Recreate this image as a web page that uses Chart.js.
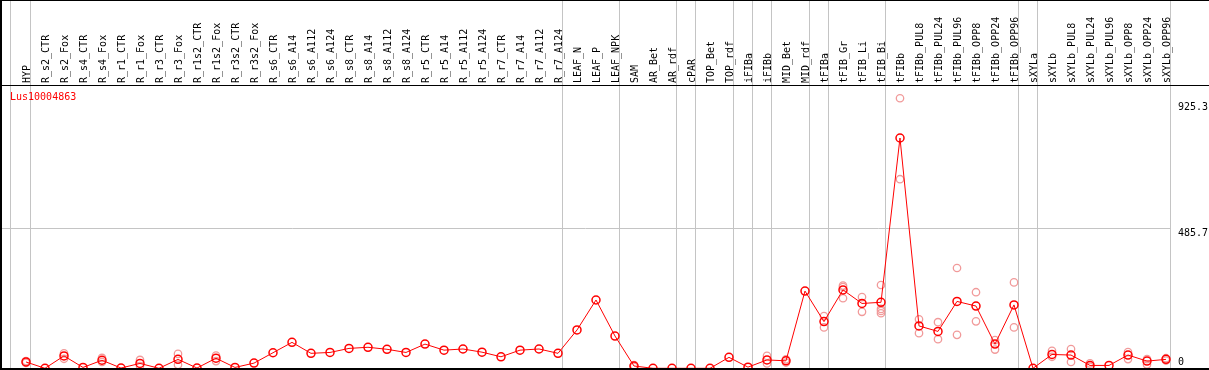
<!DOCTYPE html>
<html>
<head>
<meta charset="utf-8">
<script src="https://cdn.jsdelivr.net/npm/chart.js@4.4.1/dist/chart.umd.min.js"></script>
<style>
  body { margin: 0; background: #fff; }
  #wrap { position: relative; width: 1209px; height: 370px; overflow: hidden; }
  #wrap canvas { position: absolute; left: 0; top: 0; }
  .rule { position: absolute; background: #000; pointer-events: none; }
</style>
</head>
<body>
<div id="wrap">
  <canvas id="chart" width="1209" height="370"></canvas>
  <div class="rule" style="left:0;top:0;width:1209px;height:1px"></div>
  <div class="rule" style="left:0;top:85px;width:1209px;height:1px"></div>
  <div class="rule" style="left:0;top:0;width:2px;height:370px"></div>
  <div class="rule" style="left:0;top:368px;width:1209px;height:2px"></div>
</div>
<script>
const geneName = 'Lus10004863'

const categories = [
    'HYP',
    'R_s2_CTR', 'R_s2_Fox', 'R_s4_CTR', 'R_s4_Fox', 'R_r1_CTR', 'R_r1_Fox', 'R_r3_CTR', 'R_r3_Fox',
    'R_r1s2_CTR', 'R_r1s2_Fox', 'R_r3s2_CTR', 'R_r3s2_Fox',
    'R_s6_CTR', 'R_s6_A14', 'R_s6_A112', 'R_s6_A124', 'R_s8_CTR', 'R_s8_A14', 'R_s8_A112', 'R_s8_A124',
    'R_r5_CTR', 'R_r5_A14', 'R_r5_A112', 'R_r5_A124', 'R_r7_CTR', 'R_r7_A14', 'R_r7_A112', 'R_r7_A124',
    'LEAF_N', 'LEAF_P', 'LEAF_NPK',
    'SAM', 'AR_Bet', 'AR_rdf', 'cPAR', 'TOP_Bet', 'TOP_rdf', 'iFIBa', 'iFIBb', 'MID_Bet', 'MID_rdf',
    'tFIBa', 'tFIB_Gr', 'tFIB_Li', 'tFIB_Bi',
    'tFIBb', 'tFIBb_PUL8', 'tFIBb_PUL24', 'tFIBb_PUL96', 'tFIBb_OPP8', 'tFIBb_OPP24', 'tFIBb_OPP96',
    'sXYLa', 'sXYLb', 'sXYLb_PUL8', 'sXYLb_PUL24', 'sXYLb_PUL96', 'sXYLb_OPP8', 'sXYLb_OPP24', 'sXYLb_OPP96'
]

// mean expression per sample
const meanValues = [
    22,
    0, 43, 3, 28, 1, 17, 0, 31,
    1, 35, 3, 18,
    54, 90, 52, 55, 69, 73, 66, 55,
    84, 63, 67, 56, 40, 63, 67, 52,
    133, 237, 112,
    8, 0, 0, 0, 0, 38, 4, 29, 26, 268,
    162, 272, 225, 229,
    799, 147, 128, 232, 216, 84, 220,
    0, 48, 46, 10, 10, 46, 25, 31
]

// single replicates, one list per sample
const replicates = [
    [19, 25],
    [], [52, 33], [], [36, 22], [], [29, 8], [], [50, 12],
    [], [44, 25], [], [],
    [], [], [], [], [], [], [], [],
    [], [], [], [], [], [], [], [],
    [], [], [],
    [5, 11], [], [], [], [], [], [], [43, 17], [20, 31], [],
    [181, 142], [287, 282, 243], [247, 196], [289, 206, 199, 191],
    [937, 656], [170, 122], [160, 101], [348, 116], [264, 163], [98, 65], [298, 142],
    [], [61, 40], [67, 22], [17, 5], [], [56, 32], [32, 13], [35, 27]
]

// last sample index of each group (vertical separators)
const groupEnds = [0, 28, 31, 34, 35, 37, 38, 39, 41, 42, 45, 52, 53, 60]
const yTicks = [0, 485.7, 925.3]

const X_MIN = -1.36842
const X_MAX = 60.26316
const Y_MIN = -2.4
const Y_MAX = 982.9

const monoCss = "10px 'DejaVu Sans Mono', monospace"
const mono = { family: "'DejaVu Sans Mono', monospace", size: 10 }
const red = '#ff0000'
const pink = '#f19a9a'
const gridGray = '#c4c4c4'

const meanPoints = meanValues.map((v, i) => ({ x: i, y: v }))
const repPoints = []
replicates.forEach((list, i) => list.forEach(v => repPoints.push({ x: i, y: v })))
const separators = [-0.82].concat(groupEnds.map(i => i + 0.25))

// gene name in the corner + y tick labels hanging under their tick (kept inside the plot)
const textLayer = {
    id: 'textLayer',
    afterDraw(chart) {
        const ctx = chart.ctx
        const area = chart.chartArea
        const y = chart.scales.y
        ctx.save()
        ctx.font = monoCss
        ctx.textBaseline = 'middle'
        ctx.fillStyle = red
        ctx.fillText(geneName, area.left + 10, area.top + 12.5)
        ctx.fillStyle = '#000'
        y.ticks.forEach(t => {
            const py = Math.min(y.getPixelForValue(t.value) + 5.5, area.bottom - 7)
            ctx.fillText(String(t.value), y.left + 7, py)
        })
        ctx.restore()
    }
}

function noPad(s) {
    s.paddingLeft = 0
    s.paddingRight = 0
    s.paddingTop = 0
    s.paddingBottom = 0
}

new Chart(document.getElementById('chart'), {
    data: {
        datasets: [{
            type: 'line',
            data: meanPoints,
            borderColor: red,
            borderWidth: 1,
            pointStyle: 'circle',
            pointRadius: 4,
            pointBorderWidth: 1.5,
            pointBorderColor: red,
            pointBackgroundColor: 'rgba(0,0,0,0)',
            tension: 0,
            order: 0
        }, {
            type: 'scatter',
            data: repPoints,
            pointStyle: 'circle',
            pointRadius: 3.7,
            pointBorderWidth: 1.3,
            pointBorderColor: pink,
            pointBackgroundColor: 'rgba(0,0,0,0)',
            order: 1
        }]
    },
    options: {
        responsive: false,
        animation: false,
        devicePixelRatio: 1,
        layout: { autoPadding: false, padding: { left: 0, right: 0, top: 0, bottom: 1 } },
        plugins: { legend: { display: false }, tooltip: { enabled: false } },
        scales: {
            x: {
                type: 'linear',
                position: 'top',
                weight: 1,
                min: X_MIN,
                max: X_MAX,
                afterBuildTicks: s => { s.ticks = categories.map((c, i) => ({ value: i })) },
                afterFit: s => { s.height = 85; noPad(s) },
                grid: { display: false, drawTicks: false },
                border: { display: false },
                ticks: {
                    autoSkip: false,
                    minRotation: 90,
                    maxRotation: 90,
                    padding: 2,
                    labelOffset: 13,
                    color: '#000',
                    font: mono,
                    callback: v => categories[v]
                }
            },
            xGrid: {
                type: 'linear',
                position: 'top',
                weight: 0,
                min: X_MIN,
                max: X_MAX,
                afterBuildTicks: s => { s.ticks = separators.map(v => ({ value: v })) },
                afterFit: s => { s.height = 0; noPad(s) },
                grid: { color: gridGray, tickColor: gridGray, tickLength: 85, lineWidth: 1 },
                border: { display: false },
                ticks: { display: false }
            },
            y: {
                type: 'linear',
                position: 'right',
                min: Y_MIN,
                max: Y_MAX,
                afterBuildTicks: s => { s.ticks = yTicks.map(v => ({ value: v })) },
                afterFit: s => { s.width = 38; noPad(s) },
                grid: {
                    drawTicks: false,
                    lineWidth: 1,
                    color: c => (c.tick && c.tick.value === 485.7) ? gridGray : 'rgba(0,0,0,0)'
                },
                border: { display: false },
                ticks: { display: false }
            }
        }
    },
    plugins: [textLayer]
})
</script>
</body>
</html>
